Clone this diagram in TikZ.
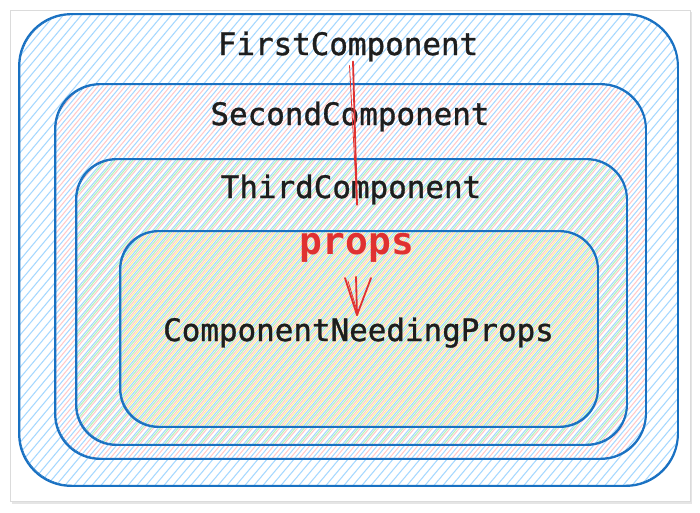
\documentclass[tikz,border=0pt]{standalone}
\usepackage{fontspec}
\newfontface\monofont{DejaVu Sans Mono}[FakeBold=1.1]
\newfontface\monobold{DejaVu Sans Mono Bold}
\definecolor{strokeblue}{HTML}{1971C2}
\definecolor{hblue}{HTML}{A5D8FF}
\definecolor{hpink}{HTML}{FFC9C9}
\definecolor{hgreen}{HTML}{B2F2BB}
\definecolor{hyellow}{HTML}{FFEC99}
\definecolor{arrowred}{HTML}{E03131}
\definecolor{inkblack}{HTML}{1E1E1E}
\tikzset{
  hatchline/.style={line width=1.05pt},
  boxline/.style={rectangle, draw=strokeblue, line width=1.9pt, inner sep=0pt, outer sep=0pt},
  boxecho/.style={draw=strokeblue, line width=0.7pt},
  labeltext/.style={inner sep=0pt, outer sep=0pt, text=inkblack, font=\monofont\fontsize{30.9}{36}\selectfont},
  propstext/.style={inner sep=0pt, outer sep=0pt, text=arrowred, font=\monobold\fontsize{37.9}{44}\selectfont},
  arrowline/.style={draw=arrowred, line width=1.8pt, line cap=round, line join=round},
}
% #1 name, #2 x1, #3 y1, #4 x2, #5 y2, #6 radius, #7 hatch colour, #8 offset
\newcommand\sketchbox[8]{%
  \begin{scope}
    \clip[rounded corners=#6] (#2,#3) rectangle (#4,#5);
    \foreach \i in {-450,-441,...,700} \draw[hatchline, #7] (\i+#8,520) -- ++(436,-520);
  \end{scope}
  \node[boxline, rounded corners=#6, minimum width={#4-#2}, minimum height={#5-#3}] (#1) at ({(#2+#4)/2},{(#3+#5)/2}) {};
  \draw[boxecho, rounded corners=#6] ([xshift=0.9pt,yshift=-0.8pt]#1.north west) rectangle ([xshift=-0.6pt,yshift=0.9pt]#1.south east);
}
\begin{document}
\begin{tikzpicture}[x=1pt,y=-1pt]
  \useasboundingbox (0,0) rectangle (700,512);
  % card
  \fill[black!10] (11.5,11.5) rectangle (692,503.5);
  \fill[white] (10,10) rectangle (690,501.5);
  \draw[black!14, line width=0.6pt] (10,10) rectangle (690,501.5);
  % nested components
  \sketchbox{r1}{19}{14}{678}{486}{52pt}{hblue}{0}
  \sketchbox{r2}{55}{84}{646}{459}{45pt}{hpink}{4.5}
  \sketchbox{r3}{76}{159}{627}{445}{40pt}{hgreen}{2.2}
  \sketchbox{r4}{120}{231}{598}{427}{38pt}{hyellow}{6.7}
  % labels
  \node[labeltext, anchor=base] (first) at (348,55) {FirstComponent};
  \node[labeltext, anchor=base] (second) at (350,125) {SecondComponent};
  \node[labeltext, anchor=base] (third) at (351,198) {ThirdComponent};
  \node[labeltext, anchor=base] (needing) at (358.5,341) {ComponentNeedingProps};
  \node[propstext, anchor=base] (props) at (357,254) {props};
  % arrow
  \coordinate (tail) at ([xshift=5pt]first.south);
  \coordinate (shafttop) at ([yshift=28pt]props.north);
  \coordinate (shaftlow) at ([xshift=-1pt,yshift=-15pt]props.south);
  \coordinate (tip) at ([xshift=-1.5pt,yshift=2.5pt]needing.north);
  \draw[arrowline] (tail) -- (shafttop);
  \draw[arrowline, line width=0.8pt] ([xshift=-3.5pt,yshift=-4pt]tail) -- (shafttop);
  \draw[arrowline] (shaftlow) -- (tip);
  \draw[arrowline] ([xshift=-12pt,yshift=37pt]tip) -- (tip) -- ([xshift=14pt,yshift=37pt]tip);
  \draw[arrowline, line width=0.8pt] ([xshift=-9pt,yshift=34pt]tip) -- ([xshift=1pt,yshift=1pt]tip);
\end{tikzpicture}
\end{document}
